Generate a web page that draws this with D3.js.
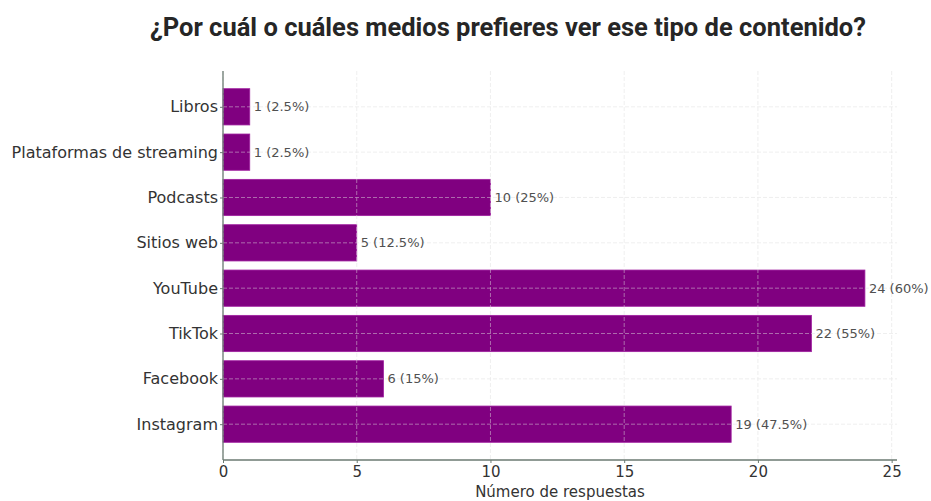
<!DOCTYPE html>
<html>
<head>
<meta charset="utf-8">
<script src="https://cdn.jsdelivr.net/npm/d3@7"></script>
<style>
  body { margin: 0; background: #fff; }
  svg { display: block; }
</style>
</head>
<body>
<svg id="chart" width="931" height="501"></svg>
<script>
// data, bottom to top as in the picture
const categories = ["Instagram", "Facebook", "TikTok", "YouTube", "Sitios web", "Podcasts", "Plataformas de streaming", "Libros"];
const counts = [19, 6, 22, 24, 5, 10, 1, 1];
const labels = ["19 (47.5%)", "6 (15%)", "22 (55%)", "24 (60%)", "5 (12.5%)", "10 (25%)", "1 (2.5%)", "1 (2.5%)"];
const xTicks = [0, 5, 10, 15, 20, 25];

const svg = d3.select("#chart");
const plot = {left: 223, right: 897, top: 71, bottom: 460};

let x = d3.scaleLinear().domain([0, 25.2]).range([plot.left, plot.right]);
let y = d3.scaleLinear().domain([-0.79, categories.length - 1 + 0.79]).range([plot.bottom, plot.top]);
let barH = Math.abs(y(0.4) - y(-0.4));

let rows = categories.map((c, i) => ({name: c, value: counts[i], label: labels[i], i: i}));

// title
svg.append("text")
    .attr("x", 508).attr("y", 36)
    .attr("text-anchor", "middle")
    .style("font-family", "Roboto")
    .style("font-weight", "700")
    .style("font-size", "25.5px")
    .style("fill", "#262626")
    .text("¿Por cuál o cuáles medios prefieres ver ese tipo de contenido?");

// bars
svg.append("g").selectAll("rect").data(rows).enter().append("rect")
    .attr("x", x(0))
    .attr("y", d => y(d.i) - barH / 2)
    .attr("width", d => x(d.value) - x(0))
    .attr("height", barH)
    .style("fill", "#800080")
    .style("stroke", "#a020a0")
    .style("stroke-width", 0.8);

// grid on top of bars
let grid = svg.append("g").style("stroke", "#e0e0e0").style("stroke-width", 0.8)
    .style("stroke-dasharray", "4,2").style("opacity", 0.6);
grid.selectAll("line.v").data(xTicks).enter().append("line")
    .attr("x1", d => x(d)).attr("x2", d => x(d))
    .attr("y1", plot.top).attr("y2", plot.bottom);
grid.selectAll("line.h").data(rows).enter().append("line")
    .attr("x1", plot.left).attr("x2", plot.right)
    .attr("y1", d => y(d.i)).attr("y2", d => y(d.i));

// value labels
svg.append("g").selectAll("text").data(rows).enter().append("text")
    .attr("x", d => x(d.value) + 4)
    .attr("y", d => y(d.i))
    .attr("dy", "0.35em")
    .style("font-family", "DejaVu Sans")
    .style("font-size", "13px")
    .style("fill", "#505050")
    .text(d => d.label);

// x axis
let xAxis = d3.axisBottom(x).tickValues(xTicks).tickSize(3).tickPadding(3);
let xg = svg.append("g")
    .attr("transform", "translate(0," + plot.bottom + ")")
    .call(xAxis);
xg.select(".domain").style("stroke", "#6b7a72").style("stroke-width", 1.3).attr("d", "M" + plot.left + ",0H" + plot.right);
xg.selectAll(".tick line").style("stroke", "#6b7a72");
xg.selectAll("text").style("font-family", "DejaVu Sans").style("font-size", "15px").style("fill", "#333");

// y axis
let yAxis = d3.axisLeft(y).tickValues(rows.map(d => d.i)).tickFormat(i => categories[i]).tickSize(3).tickPadding(2);
let yg = svg.append("g")
    .attr("transform", "translate(" + plot.left + ",0)")
    .call(yAxis);
yg.select(".domain").style("stroke", "#6b7a72").style("stroke-width", 1.3).attr("d", "M0," + plot.top + "V" + plot.bottom);
yg.selectAll(".tick line").style("stroke", "#6b7a72");
yg.selectAll("text").style("font-family", "DejaVu Sans").style("font-size", "16px").style("fill", "#333");

// x label
svg.append("text")
    .attr("x", 560)
    .attr("y", 497)
    .attr("text-anchor", "middle")
    .style("font-family", "DejaVu Sans")
    .style("font-size", "15px")
    .style("fill", "#333")
    .text("Número de respuestas");
</script>
</body>
</html>
